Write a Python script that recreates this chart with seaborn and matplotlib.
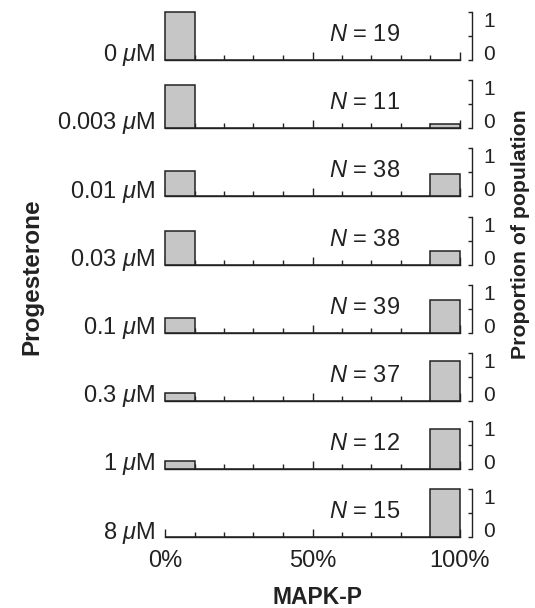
import numpy as np
import matplotlib
matplotlib.use("Agg")
import matplotlib.pyplot as plt
import seaborn as sns

# Proportion of oocytes with low (0-10%) or high (90-100%) MAPK-P, per progesterone dose
concentrations = ["0", "0.003", "0.01", "0.03", "0.1", "0.3", "1", "8"]
n_cells = [19, 11, 38, 38, 39, 37, 12, 15]
frac_low = [1.00, 0.91, 0.53, 0.71, 0.31, 0.16, 0.17, 0.00]
frac_high = [0.00, 0.09, 0.47, 0.29, 0.69, 0.84, 0.83, 1.00]
bin_edges = list(range(0, 101, 10))
bin_centers = [5, 95]

sns.set_style("white")
plt.rcParams["font.family"] = ["Liberation Sans", "DejaVu Sans"]
plt.rcParams["mathtext.fontset"] = "custom"
plt.rcParams["mathtext.rm"] = "Liberation Sans"
plt.rcParams["mathtext.it"] = "Liberation Sans:italic"
plt.rcParams["mathtext.bf"] = "Liberation Sans:bold"

FS = 17
W, H = 535, 608
fig = plt.figure(figsize=(W / 100, H / 100), dpi=100)

ink = "#222222"
for i, conc in enumerate(concentrations):
    base_px = 60 + 68.2 * i
    ax = fig.add_axes([165 / W, (H - base_px) / H, 295 / W, 48 / H])
    sns.histplot(x=bin_centers, weights=[frac_low[i], frac_high[i]], bins=bin_edges,
                 ax=ax, color="#c6c6c6", edgecolor=ink, linewidth=1.1, alpha=1)
    for p in ax.patches:
        p.set_clip_on(False)
    ax.set_xlim(0, 100)
    ax.set_ylim(0, 1)
    ax.set_xlabel("")
    ax.set_ylabel("")

    sns.despine(ax=ax, left=True, top=True, right=False)
    ax.spines["bottom"].set_color(ink)
    ax.spines["bottom"].set_linewidth(1.0)
    ax.spines["right"].set_color(ink)
    ax.spines["right"].set_linewidth(1.0)
    ax.spines["right"].set_position(("outward", 9))

    # x ticks: every 10 %, taller at 0/50/100
    ax.set_xticks([0, 50, 100])
    ax.set_xticks(bin_edges, minor=True)
    ax.tick_params(axis="x", which="major", direction="in", length=6, width=1.0,
                   color=ink, pad=9, labelsize=FS, labelcolor=ink, bottom=True)
    ax.tick_params(axis="x", which="minor", direction="in", length=3.5, width=1.0,
                   color=ink, bottom=True)
    if i == len(concentrations) - 1:
        ax.set_xticklabels(["0%", "50%", "100%"])
    else:
        ax.set_xticklabels([])

    # right bracket 0..1
    ax.yaxis.tick_right()
    ax.set_yticks([0, 0.5, 1])
    ax.set_yticklabels(["0", "", "1"])
    ax.tick_params(axis="y", which="major", direction="in", length=3, width=1.0,
                   color=ink, pad=8, labelsize=15, labelcolor=ink,
                   left=False, right=True)
    labs = ax.get_yticklabels()
    labs[0].set_va("baseline")
    labs[2].set_va("top")

    ax.text(-0.034, 0.1, f"{conc} $\\mu$M", transform=ax.transAxes,
            ha="right", va="center", fontsize=FS, color=ink)
    ax.text(0.675, 0.52, f"$N$ = {n_cells[i]}", transform=ax.transAxes,
            ha="center", va="center", fontsize=FS, color=ink)

fig.text(32 / W, 1 - 277 / H, "Progesterone", rotation=90, ha="center", va="center",
         fontsize=17.5, fontweight="bold", color=ink)
fig.text(521 / W, 1 - 234 / H, "Proportion of population", rotation=90, ha="center",
         va="center", fontsize=15.3, fontweight="bold", color=ink)
fig.text(317 / W, 1 - 597 / H, "MAPK-P", ha="center", va="center",
         fontsize=16.5, fontweight="bold", color=ink)

fig.savefig("out.png", dpi=100)
